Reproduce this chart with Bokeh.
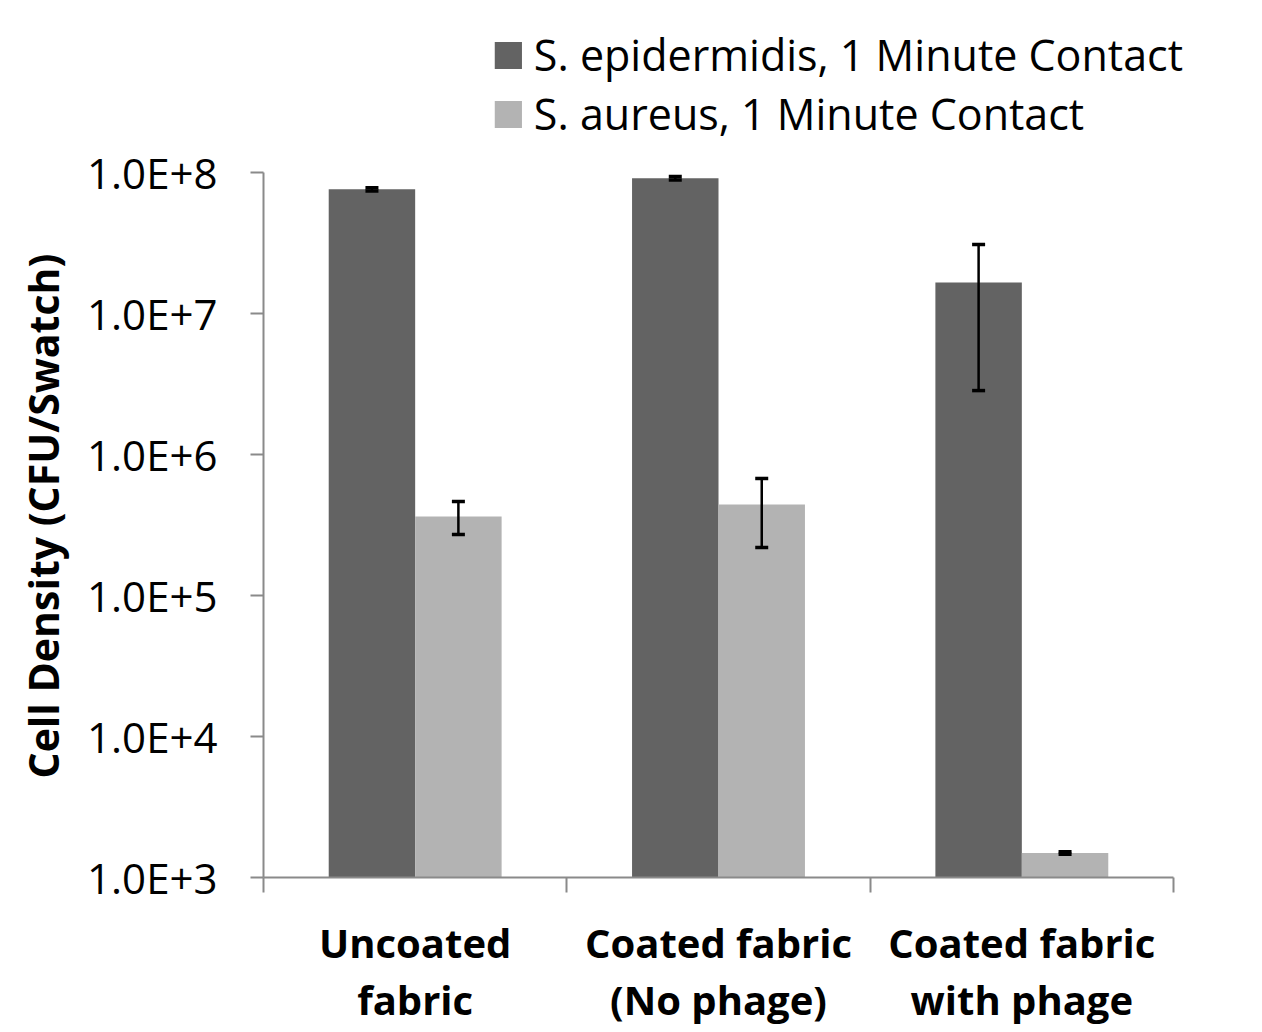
from bokeh.plotting import figure
from bokeh.models import (ColumnDataSource, FixedTicker, Range1d, Whisker, TeeHead,
                          Legend, LegendItem, Title)
from bokeh.embed import file_html
from bokeh.resources import INLINE

# ---- data ----
categories = ["Uncoated\nfabric", "Coated fabric\n(No phage)", "Coated fabric\nwith phage"]
series_names = ["S. epidermidis, 1 Minute Contact", "S. aureus, 1 Minute Contact"]
y_title = "Cell Density (CFU/Swatch)"
epi_values = [7.6e7, 9.1e7, 1.66e7]
epi_upper = [7.8e7, 9.35e7, 3.08e7]
epi_lower = [7.4e7, 8.85e7, 2.84e6]
aur_values = [3.63e5, 4.42e5, 1.49e3]
aur_upper = [4.65e5, 6.76e5, 1.52e3]
aur_lower = [2.71e5, 2.19e5, 1.46e3]
y_ticks = [1e3, 1e4, 1e5, 1e6, 1e7, 1e8]
y_tick_labels = ["1.0E+3", "1.0E+4", "1.0E+5", "1.0E+6", "1.0E+7", "1.0E+8"]

DARK = "#636363"
LIGHT = "#b3b3b3"
AXIS = "#8a8a8a"
FONT = "Open Sans"

n = len(categories)
centers = [i + 0.5 for i in range(n)]
bar_w = 0.285

# layout (pixels): frame from x=263 to 1183, y=25 to 877; 1e8 sits at y=172
FRAME_TOP, AXIS_TOP, AXIS_BOTTOM = 25, 172, 877
TITLE_START = 778  # pixel row where the rotated y title begins
decades = 5
y_end = 10 ** (8 + decades * (AXIS_TOP - FRAME_TOP) / (AXIS_BOTTOM - AXIS_TOP))
x_end = n * (1183 - 263) / (1173 - 263)

W, H = 1254, 1030
p = figure(width=W, height=H, y_axis_type="log",
           x_range=Range1d(0, x_end), y_range=Range1d(1e3, y_end),
           output_backend="svg", toolbar_location=None,
           min_border_left=263, min_border_right=W - 1183,
           min_border_top=FRAME_TOP, min_border_bottom=H - AXIS_BOTTOM)
p.outline_line_color = None
p.xgrid.visible = False
p.ygrid.visible = False
p.background_fill_color = "white"
p.border_fill_color = "white"

bottom = y_ticks[0]
src_e = ColumnDataSource(dict(x=[c - bar_w / 2 for c in centers], top=epi_values,
                              bottom=[bottom] * n, upper=epi_upper, lower=epi_lower))
src_a = ColumnDataSource(dict(x=[c + bar_w / 2 for c in centers], top=aur_values,
                              bottom=[bottom] * n, upper=aur_upper, lower=aur_lower))

r_e = p.vbar(x="x", top="top", bottom="bottom", width=bar_w, source=src_e,
             fill_color=DARK, line_color=None)
r_a = p.vbar(x="x", top="top", bottom="bottom", width=bar_w, source=src_a,
             fill_color=LIGHT, line_color=None)

for src in (src_e, src_a):
    w = Whisker(base="x", upper="upper", lower="lower", source=src,
                line_color="black", line_width=2.5, level="overlay",
                upper_head=TeeHead(size=13, line_width=3.5, line_color="black"),
                lower_head=TeeHead(size=13, line_width=3.5, line_color="black"))
    p.add_layout(w)

# y axis
ya = p.yaxis[0]
ya.ticker = FixedTicker(ticks=y_ticks, minor_ticks=[])
ya.major_label_overrides = {t: l for t, l in zip(y_ticks, y_tick_labels)}
ya.bounds = (y_ticks[0], y_ticks[-1])
ya.axis_line_color = AXIS
ya.axis_line_width = 2
ya.major_tick_line_color = AXIS
ya.major_tick_line_width = 2
ya.major_tick_out = 13
ya.major_tick_in = 0
ya.minor_tick_line_color = None
ya.major_label_standoff = 33
ya.major_label_text_font = FONT
ya.major_label_text_font_size = "42px"
ya.major_label_text_color = "black"

# y axis title, placed along the left side so it can be shifted along the axis
yt = Title(text=y_title, align="left", offset=AXIS_BOTTOM - TITLE_START,
           text_font=FONT, text_font_size="41px", text_font_style="bold",
           text_color="black", standoff=25, vertical_align="middle")
p.add_layout(yt, "left")

# x axis
xa = p.xaxis[0]
xa.ticker = FixedTicker(ticks=centers, minor_ticks=list(range(n + 1)))
xa.major_label_overrides = {c: lab for c, lab in zip(centers, categories)}
xa.bounds = (0, n)
xa.axis_line_color = AXIS
xa.axis_line_width = 2
xa.major_tick_line_color = None
xa.major_tick_out = 0
xa.major_tick_in = 0
xa.minor_tick_line_color = AXIS
xa.minor_tick_line_width = 2
xa.minor_tick_out = 15
xa.minor_tick_in = 0
xa.major_label_standoff = 22
xa.major_label_text_font = FONT
xa.major_label_text_font_size = "40px"
xa.major_label_text_font_style = "bold"
xa.major_label_text_color = "black"
xa.major_label_text_line_height = 1.05

legend = Legend(items=[LegendItem(label=series_names[0], renderers=[r_e]),
                       LegendItem(label=series_names[1], renderers=[r_a])],
                location="top_right", orientation="vertical",
                label_text_font=FONT, label_text_font_size="43px",
                label_text_color="black",
                glyph_width=34, glyph_height=34, label_standoff=9,
                spacing=0, padding=0, margin=0,
                border_line_color=None, background_fill_alpha=0)
p.add_layout(legend)

open("out.html", "w").write(file_html(p, INLINE))
